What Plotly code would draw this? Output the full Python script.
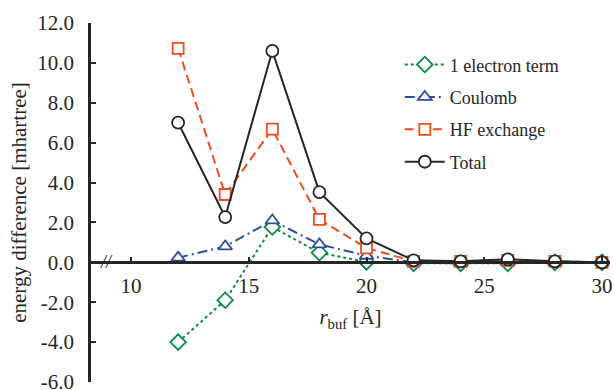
import plotly.graph_objects as go

r_buf = [12, 14, 16, 18, 20, 22, 24, 26, 28, 30]
one_electron = [-4.0, -1.9, 1.77, 0.48, 0.02, -0.05, -0.05, -0.05, 0.0, 0.0]
coulomb = [0.23, 0.8, 2.1, 0.9, 0.33, 0.0, -0.05, 0.0, 0.0, 0.0]
hf_exchange = [10.73, 3.4, 6.68, 2.15, 0.72, 0.05, 0.05, 0.1, 0.05, 0.0]
total = [7.0, 2.27, 10.6, 3.52, 1.2, 0.1, 0.05, 0.15, 0.05, 0.0]

y_tick_vals = [-6, -4, -2, 0, 2, 4, 6, 8, 10, 12]
y_tick_labels = ["-6.0", "-4.0", "-2.0", "0.0", "2.0", "4.0", "6.0", "8.0", "10.0", "12.0"]
x_tick_vals = [10, 15, 20, 25, 30]
x_tick_labels = ["10", "15", "20", "25", "30"]

FONT = "Liberation Serif"
AX = "#262626"

series = [
    ("1 electron term", one_electron, "#0B8A45", "3px,3px", "diamond", 12),
    ("Coulomb", coulomb, "#2D4F9E", "10px,4px,2px,4px", "triangle-up", 12),
    ("HF exchange", hf_exchange, "#EE4E1C", "9px,5px", "square", 11),
    ("Total", total, "#262626", "solid", "circle", 12),
]

fig = go.Figure()
for name, vals, color, dash, sym, size in series:
    fig.add_trace(go.Scatter(
        x=r_buf, y=vals, name=name, mode="lines+markers", legendgroup=name,
        line=dict(color=color, width=2, dash=dash),
        marker=dict(symbol=sym, size=size, color="white",
                    line=dict(color=color, width=1.8)),
    ))

y_min, y_max = -6, 12
fig.update_layout(
    width=614, height=390,
    margin=dict(l=91, r=4, t=23, b=8),
    paper_bgcolor="white", plot_bgcolor="white",
    font=dict(family=FONT, size=21, color="#262626"),
    showlegend=True,
    legend=dict(x=0.595, y=0.935, xanchor="left", yanchor="top",
                font=dict(family=FONT, size=18, color="#262626"),
                tracegroupgap=6, itemwidth=40, bgcolor="rgba(0,0,0,0)"),
    xaxis=dict(range=[8.30, 30.34], tickvals=x_tick_vals, ticktext=x_tick_labels,
               showgrid=False, zeroline=False, showline=True, linecolor=AX, linewidth=2.5,
               ticks="inside", ticklen=5, tickwidth=1.5, tickcolor=AX,
               anchor="free", position=(0 - y_min) / (y_max - y_min),
               automargin=False, ticklabelstandoff=4, ticklabeloverflow="allow",
               title=dict(text="<i>r</i><sub>buf</sub> [Å]", standoff=12,
                          font=dict(family=FONT, size=21)),
               tickfont=dict(family=FONT, size=21)),
    yaxis=dict(range=[y_min, y_max], tickvals=y_tick_vals, ticktext=y_tick_labels,
               showgrid=False, zeroline=False, showline=True, linecolor=AX, linewidth=2.5,
               ticks="inside", ticklen=5, tickwidth=1.5, tickcolor=AX,
               ticklabelstandoff=10, automargin=False, ticklabeloverflow="allow",
               title=dict(text="energy difference [mhartree]", standoff=5,
                          font=dict(family=FONT, size=21)),
               tickfont=dict(family=FONT, size=21)),
)

fig.add_annotation(x=8.95, xref="x", y=0, yref="y", text="<i>//</i>", showarrow=False,
                   font=dict(family=FONT, size=18, color="#262626"))

fig.write_html(
    "out.html",
    config={"displayModeBar": False},
    post_script="document.body.style.margin='0';document.body.style.overflow='hidden';",
)
